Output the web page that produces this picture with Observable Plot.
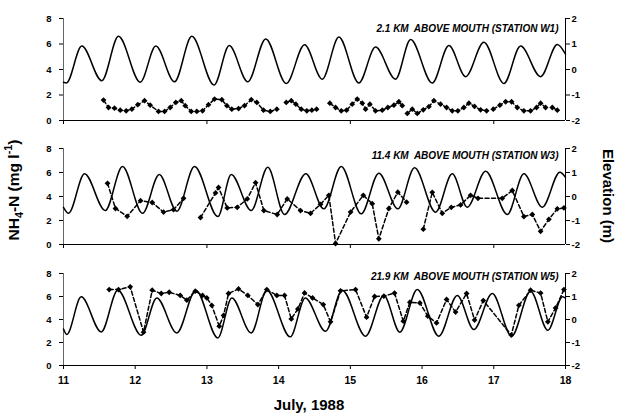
<!DOCTYPE html>
<html><head><meta charset="utf-8">
<script src="https://cdn.jsdelivr.net/npm/d3@7"></script>
<script src="https://cdn.jsdelivr.net/npm/@observablehq/plot@0.6"></script>
<style>
body{margin:0;background:#fff;font-family:"Liberation Sans",Arial,sans-serif;}
#chart{position:relative;width:619px;height:414px;overflow:hidden;background:#fff;}
#chart svg{position:absolute;left:0;}
.lab{position:absolute;font-weight:bold;white-space:nowrap;color:#000;line-height:1;}
.lab sub,.lab sup{font-size:70%;}
</style></head><body><div id="chart"></div><script>
// ---- axis ticks ----
const dayTicks = [11, 12, 13, 14, 15, 16, 17, 18];
const oddDayTicks = [11, 13, 15, 17];
const nh4Ticks = [0, 2, 4, 6, 8];
const elevTicks = [-2, -1, 0, 1, 2];
const titles = ["2.1 KM  ABOVE MOUTH (STATION W1)", "11.4 KM  ABOVE MOUTH (STATION W3)", "21.9 KM  ABOVE MOUTH (STATION W5)"];

// ---- Station W1 ----
const w1ElevDay = [11.0, 11.04, 11.255, 11.534, 11.767, 12.07, 12.287, 12.548, 12.789, 13.10, 13.311, 13.57, 13.82, 14.106, 14.361, 14.608, 14.84, 15.118, 15.351, 15.63, 15.84, 16.142, 16.374, 16.607, 16.862, 17.141, 17.374, 17.653, 17.886, 18.0];
const w1ElevM = [-0.5, -0.53, 0.92, -0.44, 1.3, -0.5, 0.92, -0.48, 1.3, -0.61, 0.94, -0.48, 1.2, -0.55, 0.97, -0.38, 1.27, -0.53, 0.88, -0.38, 1.18, -0.53, 0.94, -0.28, 1.07, -0.55, 0.92, -0.28, 0.98, 0.6];
const w1NH4Day = [11.558, 11.628, 11.711, 11.791, 11.874, 11.953, 12.036, 12.13, 12.209, 12.325, 12.409, 12.488, 12.566, 12.642, 12.697, 12.781, 12.859, 12.939, 13.022, 13.106, 13.208, 13.278, 13.347, 13.441, 13.524, 13.618, 13.696, 13.789, 13.883, 13.975, 14.04, 14.106, 14.176, 14.24, 14.315, 14.393, 14.463, 14.529, 14.62, 14.714, 14.794, 14.873, 14.947, 15.026, 15.096, 15.166, 15.212, 15.272, 15.351, 15.445, 15.523, 15.607, 15.676, 15.724, 15.76, 15.794, 15.863, 15.933, 16.017, 16.095, 16.165, 16.258, 16.342, 16.421, 16.499, 16.583, 16.653, 16.732, 16.816, 16.9, 16.95, 16.993, 17.085, 17.165, 17.248, 17.328, 17.42, 17.513, 17.597, 17.653, 17.722, 17.77, 17.816, 17.886];
const w1NH4 = [1.6, 1.02, 0.97, 0.81, 0.76, 0.89, 1.24, 1.55, 1.2, 0.71, 0.71, 1.02, 1.42, 1.55, 1.16, 0.71, 0.71, 0.76, 1.24, 1.68, 1.63, 1.16, 0.89, 0.94, 1.16, 1.63, 1.42, 0.81, 0.71, 0.89, null, 1.42, 1.55, 1.28, 0.89, 0.76, 0.81, 0.89, null, 1.36, 1.02, 0.76, 0.81, 1.28, 1.68, 1.36, 0.89, 1.28, 0.76, 0.81, 1.02, 1.2, 1.47, 1.16, null, 0.55, 0.89, 0.55, 0.84, 1.08, 1.55, 1.28, 1.02, 0.76, 0.76, 1.02, 1.36, 1.1, 0.84, 0.76, null, 0.89, 1.2, 1.47, 1.47, 1.02, 0.76, 0.76, 1.02, 1.36, 1.02, null, 1.02, 0.81];

// ---- Station W3 ----
const w3ElevDay = [11.0, 11.07, 11.293, 11.582, 11.823, 12.102, 12.335, 12.58, 12.827, 13.152, 13.339, 13.618, 13.849, 14.082, 14.379, 14.63, 14.873, 15.152, 15.397, 15.662, 15.895, 16.188, 16.421, 16.63, 16.886, 17.188, 17.42, 17.676, 17.922, 18.0];
const w3ElevM = [-0.45, -0.7, 0.95, -0.585, 1.25, -0.7, 0.915, -0.61, 1.25, -0.835, 0.915, -0.585, 1.22, -0.75, 0.95, -0.515, 1.25, -0.72, 0.97, -0.515, 1.195, -0.655, 0.945, -0.445, 1.055, -0.75, 0.945, -0.445, 1.015, 0.8];
const w3NH4Day = [11.614, 11.725, 11.888, 12.074, 12.237, 12.395, 12.534, 12.674, 12.8, 12.911, 13.12, 13.162, 13.283, 13.423, 13.562, 13.678, 13.794, 13.98, 14.12, 14.305, 14.445, 14.584, 14.70, 14.794, 15.003, 15.18, 15.305, 15.397, 15.537, 15.662, 15.784, 15.9, 16.017, 16.142, 16.282, 16.407, 16.537, 16.676, 16.78, 17.118, 17.258, 17.42, 17.537, 17.653, 17.768, 17.886, 17.978];
const w3NH4 = [5.1, 3.0, 2.35, 3.65, 3.5, 2.7, 2.9, 3.85, null, 2.25, 4.3, 4.75, 3.05, 3.1, 3.8, 5.15, 2.83, 2.5, 3.8, 2.83, 2.6, 3.35, 4.1, 0.08, 2.7, 4.1, 3.4, 0.47, 3.0, 4.36, 3.53, null, 1.28, 4.35, 2.6, 3.1, 3.3, 4.1, 3.85, 3.85, 4.5, 2.33, 2.5, 1.1, 2.1, 2.97, 3.05];

// ---- Station W5 ----
const w5ElevDay = [11.0, 11.046, 11.247, 11.526, 11.757, 12.084, 12.301, 12.58, 12.845, 13.152, 13.347, 13.618, 13.835, 14.162, 14.371, 14.654, 14.887, 15.212, 15.467, 15.69, 15.933, 16.234, 16.491, 16.722, 16.979, 17.248, 17.513, 17.754, 17.96, 18.0];
const w5ElevM = [-0.41, -0.65, 0.985, -0.54, 1.275, -0.685, 0.94, -0.585, 1.275, -0.8, 0.94, -0.585, 1.275, -0.755, 0.94, -0.51, 1.275, -0.725, 1.045, -0.55, 1.305, -0.725, 1.045, -0.435, 1.13, -0.725, 1.23, -0.465, 0.99, 0.93];
const w5NH4Day = [11.637, 11.767, 11.93, 12.116, 12.237, 12.363, 12.474, 12.628, 12.72, 12.837, 12.939, 12.999, 13.068, 13.172, 13.232, 13.301, 13.441, 13.57, 13.71, 13.835, 13.975, 14.082, 14.176, 14.268, 14.361, 14.473, 14.622, 14.724, 14.863, 15.073, 15.226, 15.338, 15.467, 15.616, 15.738, 15.83, 15.969, 16.08, 16.202, 16.342, 16.467, 16.621, 16.732, 16.854, 17.244, 17.35, 17.513, 17.653, 17.754, 17.862, 17.978];
const w5NH4 = [6.6, 6.6, 6.84, 2.9, 6.55, 6.26, 6.37, 6.09, 5.68, 6.46, 6.09, 5.88, 5.22, 3.42, 4.35, 6.26, 6.66, 6.09, 5.3, 6.6, 6.09, 6.09, 4.05, 4.92, 6.31, 5.88, 5.3, 3.8, 6.49, 6.6, 4.2, 6.0, 6.03, 6.3, 3.85, 5.5, 5.44, 4.29, 3.7, 5.74, 4.65, 6.26, 3.95, 5.65, 2.65, 5.23, 6.55, 6.3, 3.8, 5.0, 6.6];

const toLeft = e => (e + 2) * 2;   // elevation (m) -> NH4 axis units
const FONT = "'Liberation Sans', Arial, sans-serif";

const panels = [
  {top: 0, height: 130, mt: 18, mb: 10, title: titles[0], tdy: 6, ed: w1ElevDay, em: w1ElevM, nd: w1NH4Day, nv: w1NH4, bottom: false},
  {top: 130, height: 124, mt: 18, mb: 10, title: titles[1], tdy: 3, ed: w3ElevDay, em: w3ElevM, nd: w3NH4Day, nv: w3NH4, bottom: false},
  {top: 254, height: 141, mt: 19, mb: 30, title: titles[2], tdy: -1, ed: w5ElevDay, em: w5ElevM, nd: w5NH4Day, nv: w5NH4, bottom: true}
];

const chart = document.getElementById("chart");
for (const p of panels) {
  const elev = p.ed.map((d, i) => ({day: d, y: toLeft(p.em[i])}));
  const nh = p.nd.map((d, i) => ({day: d, y: p.nv[i] == null ? NaN : p.nv[i]}));
  const svg = Plot.plot({
    width: 619, height: p.height,
    marginLeft: 63, marginRight: 54, marginTop: p.mt, marginBottom: p.mb,
    style: {fontFamily: FONT, background: "transparent", overflow: "visible", color: "#000"},
    x: {domain: [11, 18]},
    y: {domain: [0, 8]},
    marks: [
      Plot.axisY(nh4Ticks, {anchor: "left", tickSize: 4, tickPadding: 8, fontSize: 9.5, fontWeight: "bold", label: null}),
      Plot.axisY(elevTicks.map(toLeft), {anchor: "right", tickSize: 4, tickPadding: 2, fontSize: 9.5, fontWeight: "bold", label: null, tickFormat: v => String(v / 2 - 2)}),
      p.bottom
        ? Plot.axisX(dayTicks, {tickSize: 4, tickPadding: 7, fontSize: 10.5, fontWeight: "bold", label: null})
        : Plot.axisX(oddDayTicks, {tickSize: 4, tickFormat: () => "", label: null}),
      Plot.ruleY([0], {stroke: "#000"}),
      Plot.ruleX([11], {stroke: "#666"}),
      Plot.ruleX([18], {stroke: "#000"}),
      Plot.line(elev, {x: "day", y: "y", curve: "monotone-x", stroke: "#000", strokeWidth: 1.5}),
      Plot.line(nh, {x: "day", y: "y", stroke: "#000", strokeWidth: 1.5, strokeDasharray: "4,2.5"}),
      Plot.dot(nh, {x: "day", y: "y", symbol: "diamond2", r: 2.6, fill: "#000", stroke: "none"}),
      Plot.text([p.title], {frameAnchor: "top-right", dx: -7, dy: p.tdy, fontSize: 10, fontWeight: "bold", fontStyle: "italic", fill: "#000"})
    ]
  });
  svg.style.top = p.top + "px";
  chart.appendChild(svg);
}

function addLabel(html, x, y, rot, size) {
  const d = document.createElement("div");
  d.className = "lab";
  d.innerHTML = html;
  d.style.left = x + "px";
  d.style.top = y + "px";
  d.style.fontSize = size + "px";
  d.style.transform = `translate(-50%,-50%) rotate(${rot}deg)`;
  chart.appendChild(d);
}
addLabel("NH<sub>4</sub>-N (mg l<sup>-1</sup>)", 14, 190, -90, 15.5);
addLabel("Elevation (m)", 608, 196, 90, 15);
addLabel("July, 1988", 309, 404, 0, 15);
</script></body></html>
